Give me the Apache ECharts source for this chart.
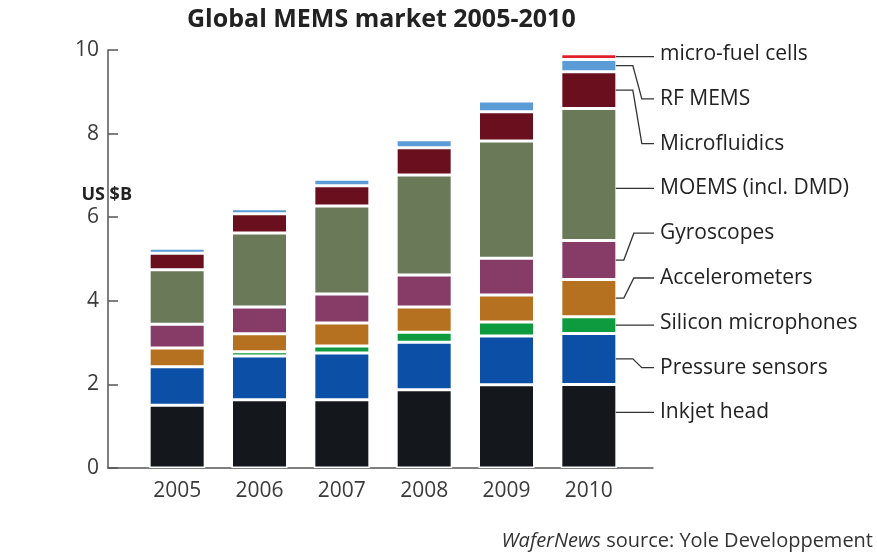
<!DOCTYPE html>
<html>
<head>
<meta charset="utf-8">
<script src="https://cdn.jsdelivr.net/npm/echarts@6/dist/echarts.min.js"></script>
<style>
  html, body { margin: 0; padding: 0; background: #fff; }
  #chart { width: 877px; height: 558px; }
</style>
</head>
<body>
<div id="chart"></div>
<script>
// Global MEMS market by device type, US $B
const years = ['2005', '2006', '2007', '2008', '2009', '2010'];

const inkjetHead      = [1.50, 1.63, 1.63, 1.87, 1.99, 2.00];
const pressureSensors = [0.92, 1.05, 1.12, 1.14, 1.17, 1.22];
const siliconMics     = [0.00, 0.10, 0.17, 0.24, 0.33, 0.40];
const accelerometers  = [0.45, 0.43, 0.55, 0.60, 0.65, 0.89];
const gyroscopes      = [0.57, 0.64, 0.69, 0.77, 0.88, 0.93];
const moems           = [1.30, 1.77, 2.11, 2.39, 2.80, 3.16];
const microfluidics   = [0.40, 0.46, 0.48, 0.65, 0.70, 0.88];
const rfMems          = [0.12, 0.12, 0.16, 0.19, 0.26, 0.29];
const microFuelCells  = [0.00, 0.00, 0.00, 0.00, 0.00, 0.14];

// stacking order, bottom to top
const segments = [
  { name: 'Inkjet head',         data: inkjetHead,      color: '#14171c' },
  { name: 'Pressure sensors',    data: pressureSensors, color: '#0b4fa6' },
  { name: 'Silicon microphones', data: siliconMics,     color: '#0e9a3e' },
  { name: 'Accelerometers',      data: accelerometers,  color: '#b5711f' },
  { name: 'Gyroscopes',          data: gyroscopes,      color: '#873c68' },
  { name: 'MOEMS (incl. DMD)',   data: moems,           color: '#6a7a59' },
  { name: 'Microfluidics',       data: microfluidics,   color: '#6a0f1e' },
  { name: 'RF MEMS',             data: rfMems,          color: '#5b9bd6' },
  { name: 'micro-fuel cells',    data: microFuelCells,  color: '#e2202b' }
];

const FONT = '"Open Sans", "DejaVu Sans", sans-serif';
const BAR_W = 56;
const AXIS_COLOR = '#555';

const chart = echarts.init(document.getElementById('chart'), null, { renderer: 'canvas' });

const option = {
  backgroundColor: '#ffffff',
  animation: false,
  title: {
    text: 'Global MEMS market 2005-2010',
    left: 182, top: 2,
    textStyle: { fontFamily: FONT, fontSize: 25, fontWeight: 'bold', color: '#222' }
  },
  // grid 0 carries the axis frame, grid 1 the bars
  grid: [
    { left: 108, right: 224, top: 50, bottom: 90, containLabel: false },
    { left: 136, right: 247, top: 50, bottom: 90, containLabel: false }
  ],
  xAxis: [
    {
      gridIndex: 0, type: 'value', min: 0, max: 1,
      axisLine: { show: true, lineStyle: { color: AXIS_COLOR, width: 1.5 } },
      axisTick: { show: false }, axisLabel: { show: false }, splitLine: { show: false }
    },
    {
      gridIndex: 1, type: 'category', data: years,
      axisLine: { show: false }, axisTick: { show: false }, splitLine: { show: false },
      axisLabel: { fontFamily: FONT, fontSize: 21, color: '#3a3a3a', margin: 13 }
    }
  ],
  yAxis: [
    {
      gridIndex: 0, type: 'value', min: 0, max: 10, interval: 2,
      axisLine: { show: true, lineStyle: { color: AXIS_COLOR, width: 1.5 } },
      axisTick: { show: true, inside: true, length: 10, lineStyle: { color: AXIS_COLOR, width: 1.5 } },
      splitLine: { show: false },
      axisLabel: { fontFamily: FONT, fontSize: 21, color: '#3a3a3a', margin: 9 }
    },
    {
      gridIndex: 1, type: 'value', min: 0, max: 10, show: false, splitLine: { show: false }
    }
  ],
  series: segments.map(s => ({
    name: s.name,
    type: 'bar',
    xAxisIndex: 1, yAxisIndex: 1,
    stack: 'market',
    barWidth: BAR_W,
    data: s.data,
    itemStyle: { color: s.color, borderColor: '#ffffff', borderWidth: 1.5 }
  }))
};

chart.setOption(option);

// Right-hand labels with leader lines to the 2010 segments
const lastIdx = years.length - 1;
const labelX = 660;
const labelTop = 54;
const labelStep = 44.8;
const graphics = [];
const toPx = v => chart.convertToPixel({ xAxisIndex: 1, yAxisIndex: 1 }, [lastIdx, v]);
const barRight = toPx(0)[0] + BAR_W / 2 - 1;

let cum = 0;
segments.forEach((s, k) => {
  const v = s.data[lastIdx];
  const yBottom = toPx(cum)[1];
  const yTop = toPx(cum + v)[1];
  const my = toPx(cum + v / 2)[1];
  cum += v;

  const slot = segments.length - 1 - k;
  const ly = labelTop + slot * labelStep;
  let pts;
  const tall = (yBottom - yTop) > 60 && ly > yTop + 4 && ly < yBottom - 4;
  if (tall || Math.abs(my - ly) < 6) {
    const y = tall ? ly : my;
    pts = [[barRight, y], [labelX - 6, y]];
  } else {
    const e1 = my < ly ? 17 : 8;
    const e2 = my < ly ? 26 : 18;
    pts = [[barRight, my], [barRight + e1, my], [barRight + e2, ly], [labelX - 6, ly]];
  }
  graphics.push({
    type: 'polyline',
    shape: { points: pts },
    style: { stroke: '#333', lineWidth: 1.3, fill: null },
    z: 10
  });
  graphics.push({
    type: 'text',
    x: labelX, y: ly,
    style: {
      text: s.name,
      fontFamily: FONT, fontSize: 21, fill: '#222',
      verticalAlign: 'middle', align: 'left'
    },
    z: 10
  });
});

graphics.push({
  type: 'text',
  x: 132, y: 195,
  style: {
    text: 'US $B',
    fontFamily: FONT, fontSize: 18, fontWeight: 'bold', fill: '#222',
    align: 'right', verticalAlign: 'middle'
  }
});

graphics.push({
  type: 'text',
  x: 873, y: 541,
  style: {
    text: '{i|WaferNews} source: Yole Developpement',
    fontFamily: FONT, fontSize: 20, fill: '#333',
    align: 'right', verticalAlign: 'middle',
    rich: { i: { fontFamily: FONT, fontSize: 20, fontStyle: 'italic', fill: '#333' } }
  }
});

chart.setOption({ graphic: graphics });
</script>
</body>
</html>
